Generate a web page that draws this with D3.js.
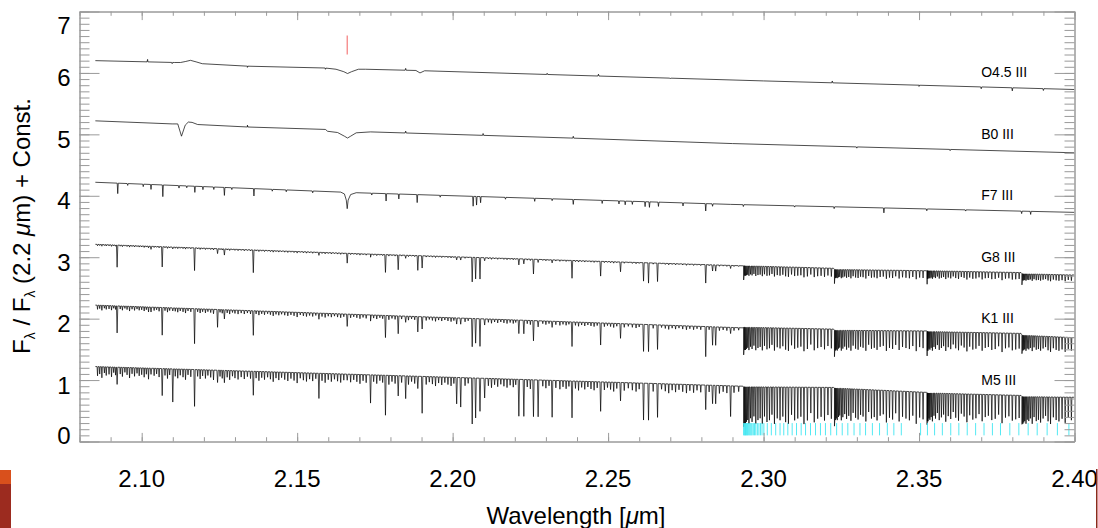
<!DOCTYPE html>
<html><head><meta charset="utf-8">
<script src="https://cdn.jsdelivr.net/npm/d3@7"></script>
<style>
body{margin:0;background:#fff;}
svg{display:block;font-family:"Liberation Sans",Arial,Helvetica,sans-serif;}
</style>
</head><body>
<svg id="chart" width="1098" height="528"></svg>
<script>
// ---------------- DATA ----------------
const stars = ["O4.5 III","B0 III","F7 III","G8 III","K1 III","M5 III"];
const labelLevels = [6,5,4,3,2,1];
const labelWl = 2.3700;
const xTickLabels = ["2.10","2.15","2.20","2.25","2.30","2.35","2.40"];
const yTickLabels = ["0","1","2","3","4","5","6","7"];
const brGammaMark = [2.1661, 6.30, 6.61];

// continuum / broad-feature anchors [wavelength, flux]
const contO45 = [[2.0851,6.20],[2.1020,6.18],[2.1105,6.17],[2.1125,6.17],[2.1140,6.185],[2.1157,6.205],[2.1175,6.18],[2.1195,6.15],[2.1340,6.11],[2.1590,6.08],[2.1625,6.06],[2.1650,6.02],[2.1662,5.99],[2.1675,6.02],[2.1697,6.06],[2.1720,6.06],[2.1882,6.04],[2.1895,6.00],[2.1910,6.035],[2.2400,5.96],[2.3000,5.87],[2.3500,5.80],[2.4000,5.73]];
const contB0 = [[2.0851,5.22],[2.1098,5.17],[2.1116,5.17],[2.1128,4.97],[2.1140,5.15],[2.1150,5.20],[2.1162,5.195],[2.1180,5.16],[2.1340,5.12],[2.1591,5.08],[2.1598,5.05],[2.1630,5.03],[2.1652,4.97],[2.1662,4.94],[2.1672,4.97],[2.1690,5.025],[2.1736,5.04],[2.2380,4.94],[2.2900,4.85],[2.4000,4.70]];
const contF7 = [[2.0851,4.22],[2.1640,4.06],[2.1652,4.03],[2.1658,3.93],[2.1661,3.79],[2.1664,3.93],[2.1672,4.02],[2.1690,4.05],[2.2894,3.86],[2.4000,3.73]];
const contG8 = [[2.0851,3.21],[2.1736,3.05],[2.2934,2.86],[2.2936,2.86],[2.3225,2.82],[2.3228,2.80],[2.3524,2.78],[2.3527,2.78],[2.3828,2.75],[2.3831,2.73],[2.4000,2.71]];
const contK1 = [[2.0851,2.22],[2.1736,2.06],[2.2934,1.85],[2.2936,1.86],[2.3225,1.83],[2.3228,1.81],[2.3524,1.80],[2.3527,1.79],[2.3828,1.76],[2.3831,1.73],[2.4000,1.69]];
const contM5 = [[2.0851,1.22],[2.1770,1.08],[2.2934,0.90],[2.2936,0.89],[2.3225,0.88],[2.3228,0.87],[2.3524,0.80],[2.3527,0.79],[2.3828,0.75],[2.3831,0.73],[2.4000,0.72]];

// narrow features of hot stars [wavelength, depth] (negative = emission spike)
const linesO45 = [[2.1019,-0.04],[2.1098,0.02],[2.1340,0.02],[2.1591,0.02],[2.1849,-0.03],[2.2304,-0.02],[2.2469,-0.03],[2.2700,0.01],[2.3221,-0.03],[2.3500,0.02],[2.3700,0.03],[2.3800,0.05],[2.3900,0.03]];
const linesB0 = [[2.1340,-0.03],[2.1849,-0.03],[2.2098,-0.03],[2.2388,-0.03],[2.3300,0.02],[2.3600,0.02]];
const linesF7 = [[2.0923,0.17],[2.0955,0.03],[2.1005,0.04],[2.1030,0.08],[2.1068,0.19],[2.1120,0.04],[2.1145,0.03],[2.1171,0.10],[2.1197,0.05],[2.1232,0.04],[2.1266,0.13],[2.1290,0.03],[2.1361,0.12],[2.1420,0.03],[2.1465,0.03],[2.1550,0.03],[2.1740,0.03],[2.1786,0.12],[2.1827,0.08],[2.1886,0.13],[2.1960,0.03],[2.2066,0.16],[2.2077,0.14],[2.2090,0.10],[2.2170,0.03],[2.2264,0.05],[2.2320,0.03],[2.2388,0.08],[2.2481,0.05],[2.2535,0.05],[2.2555,0.06],[2.2578,0.05],[2.2619,0.08],[2.2633,0.09],[2.2662,0.07],[2.2741,0.05],[2.2814,0.12],[2.2836,0.04],[2.2935,0.03],[2.3100,0.02],[2.3227,0.03],[2.3387,0.08],[2.3525,0.03],[2.3650,0.02],[2.3830,0.04],[2.3859,0.05]];

// strong atomic lines of the cool giants and their depths
const coolLineWl = [2.0921,2.1030,2.1066,2.1100,2.1170,2.1244,2.1266,2.1359,2.1570,2.1661,2.1736,2.1784,2.1825,2.1849,2.1888,2.1902,2.2013,2.2026,2.2063,2.2074,2.2088,2.2103,2.2213,2.2229,2.2260,2.2275,2.2320,2.2384,2.2476,2.2540,2.2614,2.2630,2.2659,2.2814,2.2836,2.2846,2.2894];
const depthG8 = [0.36,0.05,0.33,0.03,0.37,0.08,0.10,0.37,0.05,0.16,0.05,0.29,0.24,0.05,0.24,0.20,0.05,0.05,0.40,0.35,0.35,0.05,0.10,0.08,0.24,0.05,0.05,0.29,0.24,0.16,0.30,0.33,0.30,0.30,0.10,0.10,0.05];
const depthK1 = [0.44,0.08,0.45,0.05,0.57,0.29,0.15,0.40,0.10,0.20,0.10,0.36,0.29,0.10,0.25,0.20,0.10,0.10,0.46,0.40,0.45,0.10,0.22,0.22,0.33,0.10,0.10,0.40,0.36,0.24,0.44,0.44,0.40,0.49,0.30,0.30,0.10];
const depthM5 = [0.28,0.10,0.44,0.54,0.60,0.20,0.20,0.39,0.41,0.10,0.46,0.65,0.33,0.37,0.20,0.60,0.43,0.48,0.75,0.65,0.54,0.32,0.60,0.60,0.60,0.60,0.60,0.60,0.48,0.30,0.60,0.60,0.55,0.40,0.30,0.30,0.50];

// weak atomic lines (depth as seen in M5) and per-star strength
const weakLineWl = [2.0858,2.0865,2.0872,2.0880,2.0886,2.0895,2.0903,2.0910,2.0916,2.0931,2.0938,2.0946,2.0953,2.0961,2.0969,2.0977,2.0985,2.0992,2.1000,2.1008,2.1015,2.1022,2.1040,2.1048,2.1056,2.1075,2.1083,2.1090,2.1108,2.1116,2.1124,2.1133,2.1141,2.1149,2.1158,2.1180,2.1188,2.1196,2.1205,2.1213,2.1222,2.1231,2.1252,2.1259,2.1275,2.1283,2.1292,2.1300,2.1310,2.1320,2.1330,2.1340,2.1350,2.1368,2.1377,2.1386,2.1395,2.1405,2.1414,2.1423,2.1432,2.1441,2.1450,2.1460,2.1470,2.1480,2.1490,2.1500,2.1510,2.1520,2.1530,2.1540,2.1550,2.1560,2.1580,2.1590,2.1600,2.1610,2.1620,2.1630,2.1640,2.1650,2.1672,2.1682,2.1692,2.1702,2.1712,2.1722,2.1746,2.1756,2.1766,2.1775,2.1795,2.1805,2.1815,2.1836,2.1858,2.1868,2.1878,2.1915,2.1925,2.1935,2.1945,2.1955,2.1965,2.1975,2.1985,2.1995,2.2004,2.2040,2.2050,2.2115,2.2125,2.2135,2.2145,2.2155,2.2165,2.2175,2.2185,2.2195,2.2203,2.2240,2.2250,2.2290,2.2300,2.2310,2.2332,2.2345,2.2355,2.2365,2.2374,2.2395,2.2405,2.2415,2.2425,2.2435,2.2445,2.2455,2.2465,2.2488,2.2498,2.2508,2.2518,2.2528,2.2552,2.2565,2.2578,2.2590,2.2600,2.2645,2.2672,2.2684,2.2695,2.2706,2.2717,2.2728,2.2740,2.2752,2.2763,2.2775,2.2786,2.2798,2.2825,2.2858,2.2870,2.2882,2.2905,2.2920];
const weakLineDepth = [0.15,0.12,0.18,0.10,0.14,0.12,0.16,0.09,0.13,0.11,0.15,0.08,0.12,0.17,0.10,0.14,0.09,0.13,0.11,0.15,0.10,0.18,0.12,0.09,0.14,0.11,0.16,0.10,0.12,0.15,0.10,0.13,0.17,0.09,0.12,0.11,0.15,0.10,0.14,0.09,0.12,0.16,0.10,0.13,0.11,0.15,0.09,0.12,0.14,0.10,0.13,0.09,0.12,0.11,0.15,0.10,0.13,0.09,0.12,0.16,0.10,0.13,0.09,0.12,0.14,0.10,0.13,0.17,0.09,0.12,0.14,0.10,0.13,0.09,0.12,0.15,0.10,0.13,0.09,0.12,0.14,0.10,0.13,0.09,0.12,0.15,0.10,0.13,0.11,0.14,0.09,0.12,0.15,0.10,0.13,0.11,0.14,0.09,0.12,0.13,0.09,0.12,0.15,0.10,0.13,0.09,0.12,0.14,0.10,0.13,0.09,0.12,0.15,0.10,0.13,0.09,0.12,0.14,0.10,0.13,0.09,0.12,0.15,0.10,0.13,0.09,0.12,0.14,0.10,0.13,0.09,0.12,0.15,0.10,0.13,0.09,0.12,0.14,0.10,0.13,0.09,0.12,0.15,0.10,0.13,0.09,0.12,0.14,0.10,0.13,0.09,0.12,0.15,0.10,0.13,0.09,0.12,0.14,0.10,0.13,0.09,0.12,0.11,0.13,0.10,0.12,0.11,0.09];
const weakScale = [0.15, 0.45, 1.0]; // G8, K1, M5

// CO first-overtone bandheads, band lines and their relative strengths
const coHeads = [2.2935, 2.3227, 2.3525, 2.3830];
const coLines = [
 2.2937,2.2939,2.2942,2.2945,2.2949,2.2953,2.2958,2.2963,2.2969,2.2975,2.2982,2.2989,2.2996,2.3003,2.3011,2.3019,2.3027,2.3035,2.3044,2.3053,2.3062,2.3071,2.3080,2.3090,2.3100,2.3110,2.3120,2.3130,2.3141,2.3152,2.3163,2.3174,2.3185,2.3196,2.3207,2.3218,
 2.3229,2.3231,2.3234,2.3237,2.3241,2.3245,2.3250,2.3255,2.3261,2.3267,2.3274,2.3281,2.3288,2.3296,2.3304,2.3312,2.3320,2.3329,2.3338,2.3347,2.3356,2.3365,2.3375,2.3385,2.3395,2.3405,2.3415,2.3425,2.3436,2.3447,2.3458,2.3469,2.3480,2.3491,2.3502,2.3513,
 2.3527,2.3529,2.3532,2.3535,2.3539,2.3543,2.3548,2.3553,2.3559,2.3565,2.3572,2.3579,2.3586,2.3594,2.3602,2.3610,2.3618,2.3627,2.3636,2.3645,2.3654,2.3663,2.3673,2.3683,2.3693,2.3703,2.3713,2.3723,2.3734,2.3745,2.3756,2.3767,2.3778,2.3789,2.3800,2.3811,2.3822,
 2.3832,2.3834,2.3837,2.3840,2.3844,2.3848,2.3853,2.3858,2.3864,2.3870,2.3877,2.3884,2.3891,2.3899,2.3907,2.3915,2.3923,2.3932,2.3941,2.3950,2.3960,2.3970,2.3980,2.3990];
const coStrength = [
 1,1,1,.95,.9,1,.85,.95,.8,1,.9,.85,1,.8,.95,.9,.75,1,.85,.9,.8,.95,1,.75,.9,.85,.8,1,.9,.7,.95,.85,.8,.9,.75,.85,
 1,1,.95,1,.9,.85,1,.9,.8,.95,.85,1,.75,.9,.95,.8,.85,1,.7,.9,.85,.95,.8,.75,1,.85,.9,.7,.95,.8,.85,.9,.75,1,.8,.85,
 1,1,.9,.95,.85,1,.8,.9,.7,.95,.85,.75,1,.8,.9,.65,.85,.95,.7,.8,1,.75,.9,.85,.7,.95,.8,.75,.9,.85,.7,1,.8,.75,.9,.85,.8,
 1,1,.95,.9,1,.85,.9,.8,1,.75,.9,.85,.95,.8,.7,.9,1,.75,.85,.9,.8,.95,.75,.85];
const coDepthG8 = [0.16,0.14,0.13,0.11], coHeadG8 = [0.23,0.23,0.22,0.18];
const coDepthK1 = [0.37,0.33,0.31,0.25], coHeadK1 = [0.45,0.43,0.40,0.30];
const coDepthM5 = [0.60,0.52,0.46,0.44], coHeadM5 = [0.65,0.62,0.52,0.45];

// cyan markers of CO line positions
const cyanLines = [2.2936,2.2938,2.2940,2.2942,2.2944,2.2946,2.2948,2.2951,2.2954,2.2957,2.2960,2.2963,2.2967,2.2971,2.2975,2.2980,2.2985,2.2990,2.2995,2.3001,
 2.3012,2.3025,2.3039,2.3053,2.3065,2.3078,2.3092,2.3106,2.3121,2.3135,2.3151,2.3167,2.3183,2.3199,2.3216,2.3235,2.3253,2.3271,2.3291,2.3310,2.3328,2.3350,2.3373,2.3398,2.3419,2.3443,2.3505,2.3527,2.3550,2.3575,2.3602,2.3628,2.3655,2.3682,2.3709,2.3736,2.3762,2.3792,2.3821,2.3851,2.3880,2.3912,2.3945,2.3982];
const cyanRange = [0.10, 0.30];

// ---------------- DRAWING ----------------
const svg = d3.select("#chart");
const x = d3.scaleLinear().domain([2.08, 2.40]).range([79.5, 1074.5]);
const y = d3.scaleLinear().domain([0, 7]).range([441.5, 11.5]);
const frameColor = "#9a9a9a";

svg.append("defs").append("clipPath").attr("id","clip")
  .append("rect").attr("x",79.5).attr("y",11.5).attr("width",995).attr("height",430);

function interp(anchors, wl){
  if (wl <= anchors[0][0]) return anchors[0][1];
  for (let i=1;i<anchors.length;i++){
    if (wl <= anchors[i][0]){
      const a=anchors[i-1], b=anchors[i];
      return a[1] + (b[1]-a[1])*(wl-a[0])/(b[0]-a[0]);
    }
  }
  return anchors[anchors.length-1][1];
}
function buildSpectrum(anchors, lines){
  const pts = anchors.map(d=>[d[0],d[1]]);
  lines.forEach(([wl, depth, hw])=>{
    const h = hw || 0.00017;
    pts.push([wl-h, interp(anchors, wl-h)]);
    pts.push([wl, interp(anchors, wl) - depth]);
    pts.push([wl+h, interp(anchors, wl+h)]);
  });
  return pts.filter(p=>p[0]>=anchors[0][0] && p[0]<=2.4).sort((a,b)=>a[0]-b[0]);
}
function coolLines(depths, coDepth, coHead, idx){
  const out = coolLineWl.map((wl,i)=>[wl, depths[i], 0.00022]);
  weakLineWl.forEach((wl,i)=>out.push([wl, weakLineDepth[i]*weakScale[idx], 0.00015]));
  coHeads.forEach((h,b)=>out.push([h+0.0001, coHead[b], 0.00012]));
  coLines.forEach((wl,i)=>{
    const b = coHeads.filter(h=>h<wl).length-1;
    out.push([wl, coDepth[b]*coStrength[i], 0.00016]);
  });
  return out;
}

const spectra = [
  buildSpectrum(contO45, linesO45),
  buildSpectrum(contB0, linesB0),
  buildSpectrum(contF7, linesF7),
  buildSpectrum(contG8, coolLines(depthG8, coDepthG8, coHeadG8, 0)),
  buildSpectrum(contK1, coolLines(depthK1, coDepthK1, coHeadK1, 1)),
  buildSpectrum(contM5, coolLines(depthM5, coDepthM5, coHeadM5, 2))
];

const line = d3.line().x(d=>x(d[0])).y(d=>y(d[1]));
const plot = svg.append("g").attr("clip-path","url(#clip)");
plot.selectAll("path.spec").data(spectra).join("path")
  .attr("class","spec").attr("d", line)
  .attr("fill","none").attr("stroke","#000").attr("stroke-width",0.7);

// cyan CO markers
plot.selectAll("line.cyan").data(cyanLines).join("line")
  .attr("class","cyan")
  .attr("x1",d=>x(d)).attr("x2",d=>x(d))
  .attr("y1",y(cyanRange[0])).attr("y2",y(cyanRange[1]))
  .attr("stroke","#3fe6f2").attr("stroke-width",0.9);

// red Br-gamma marker
svg.append("line")
  .attr("x1",x(brGammaMark[0])).attr("x2",x(brGammaMark[0]))
  .attr("y1",y(brGammaMark[1])).attr("y2",y(brGammaMark[2]))
  .attr("stroke","#f47a7a").attr("stroke-width",1.2);

// axes / frame
const xMajor = xTickLabels.map(Number);
const xMinor = d3.range(2.08, 2.4001, 0.01);
const yMajor = yTickLabels.map(Number);
const yMinor = d3.range(0, 7.001, 0.1);
function styleAxis(g){
  g.selectAll(".domain").attr("stroke",frameColor);
  g.selectAll(".tick line").attr("stroke",frameColor);
  g.selectAll(".tick text").remove();
}
const axes = svg.append("g");
[[xMinor,4.3],[xMajor,8.6]].forEach(([vals,len])=>{
  axes.append("g").attr("transform",`translate(0,${y(0)})`)
    .call(d3.axisBottom(x).tickValues(vals).tickSize(-len).tickSizeOuter(0)).call(styleAxis);
  axes.append("g").attr("transform",`translate(0,${y(7)})`)
    .call(d3.axisTop(x).tickValues(vals).tickSize(-len).tickSizeOuter(0)).call(styleAxis);
});
[[yMinor,10],[yMajor,20]].forEach(([vals,len])=>{
  axes.append("g").attr("transform",`translate(${x(2.08)},0)`)
    .call(d3.axisLeft(y).tickValues(vals).tickSize(-len).tickSizeOuter(0)).call(styleAxis);
  axes.append("g").attr("transform",`translate(${x(2.40)},0)`)
    .call(d3.axisRight(y).tickValues(vals).tickSize(-len).tickSizeOuter(0)).call(styleAxis);
});

// tick labels
svg.append("g").selectAll("text").data(xTickLabels).join("text")
  .attr("x",d=>x(+d)).attr("y",486.5)
  .attr("text-anchor","middle").attr("font-size",24).attr("fill","#000").text(d=>d);
svg.append("g").selectAll("text").data(yTickLabels).join("text")
  .attr("x",70.5).attr("y",d=>Math.min(435, Math.max(25.5, y(+d)+5))+8.5)
  .attr("text-anchor","end").attr("font-size",24).attr("fill","#000").text(d=>d);

// axis titles
const xt = svg.append("text").attr("x",576).attr("y",524).attr("text-anchor","middle")
  .attr("font-size",24).attr("fill","#000");
xt.append("tspan").text("Wavelength [");
xt.append("tspan").attr("font-style","italic").text("\u03BC");
xt.append("tspan").text("m]");

const yt = svg.append("text").attr("transform","translate(30,226) rotate(-90)")
  .attr("text-anchor","middle").attr("font-size",24).attr("fill","#000");
yt.append("tspan").text("F");
yt.append("tspan").attr("font-size",14).attr("dy",5).text("\u03BB");
yt.append("tspan").attr("dy",-5).text(" / F");
yt.append("tspan").attr("font-size",14).attr("dy",5).text("\u03BB");
yt.append("tspan").attr("dy",-5).text(" (2.2 ");
yt.append("tspan").attr("font-style","italic").text("\u03BC");
yt.append("tspan").text("m) + Const.");

// star labels
svg.append("g").selectAll("text").data(stars).join("text")
  .attr("x",x(labelWl)).attr("y",(d,i)=>y(labelLevels[i])+4.5)
  .attr("font-size",14).attr("fill","#000").text(d=>d);

// slide-edge remnants visible in the reference image
svg.append("rect").attr("x",0).attr("y",470).attr("width",11).attr("height",14).attr("fill","#d9501c");
svg.append("rect").attr("x",0).attr("y",484).attr("width",11).attr("height",44).attr("fill","#9c2b1f");
svg.append("rect").attr("x",1096).attr("y",469).attr("width",1.5).attr("height",59).attr("fill","#8c2a1c");
</script>
</body></html>
